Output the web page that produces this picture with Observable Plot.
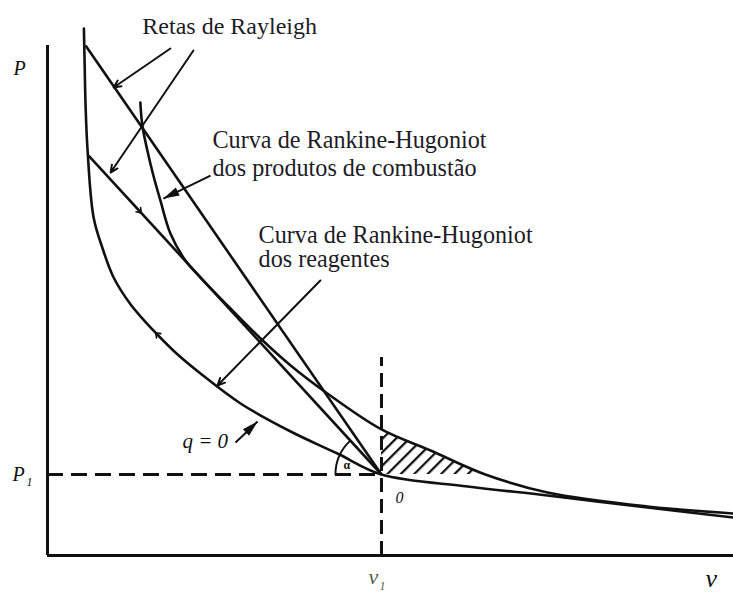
<!DOCTYPE html>
<html>
<head>
<meta charset="utf-8">
<script src="https://cdn.jsdelivr.net/npm/d3@7"></script>
<script src="https://cdn.jsdelivr.net/npm/@observablehq/plot@0.6"></script>
<style>
  body { margin: 0; background: #fff; }
  #chart svg text { font-family: "Liberation Serif", "Times New Roman", serif !important; }
</style>
</head>
<body>
<div id="chart"></div>
<script>
// Specific volume v (in units of v1) and pressure P (in units of P1).
const v1 = 1;
const p1 = 1;

// Rankine-Hugoniot curve of the reactants (q = 0), passing through O = (v1, P1)
const reactantsV = [0.109, 0.111, 0.114, 0.120, 0.138, 0.165, 0.198, 0.249, 0.317, 0.383, 0.458, 0.578, 0.728, 0.868, 1.000, 1.258, 1.497, 1.796, 2.054];
const reactantsP = [6.506, 6.111, 5.556, 5.000, 4.173, 3.790, 3.432, 3.099, 2.778, 2.506, 2.247, 1.877, 1.531, 1.259, 1.000, 0.852, 0.741, 0.593, 0.469];

// Rankine-Hugoniot curve of the combustion products
const productsV = [0.278, 0.284, 0.299, 0.317, 0.338, 0.368, 0.413, 0.458, 0.542, 0.638, 0.728, 0.838, 1.000, 1.147, 1.311, 1.497, 1.796, 2.054];
const productsP = [5.593, 5.309, 5.000, 4.691, 4.383, 3.975, 3.642, 3.432, 3.074, 2.679, 2.346, 2.000, 1.556, 1.296, 1.000, 0.778, 0.605, 0.519];

// Rayleigh lines: each runs from its upper end on the reactants curve down to O
const rayleighStartV = [0.114, 0.123];
const rayleighStartP = [6.296, 4.938];

// Texts
const rayleighLabel = "Retas de Rayleigh";
const productsLabel = ["Curva de Rankine-Hugoniot", "dos produtos de combustão"];
const reactantsLabel = ["Curva de Rankine-Hugoniot", "dos reagentes"];
const heatLabel = "q = 0";
const originLabel = "0";

// Frame
const W = 733, H = 592, mL = 47, mB = 37;
const xMax = 2.054, yMax = 6.852;
const kx = (W - mL) / xMax;   // px per unit of v
const ky = (H - mB) / yMax;   // px per unit of P
const axisTopP = 6.296;
const dashTopP = 2.444;

const reactants = reactantsV.map((v, i) => ({v, P: reactantsP[i]}));
const products = productsV.map((v, i) => ({v, P: productsP[i]}));
const rayleigh = rayleighStartV.map((v, i) => ({v, P: rayleighStartP[i]}));
// forbidden region: v > v1 and P > P1, below the products curve
const hatch = products.filter(d => d.v >= v1 && d.P >= p1);

// Angle mark between P = P1 and the lower Rayleigh line
const arcR = 46;
const rdx = (rayleigh[1].v - v1) * kx, rdy = (rayleigh[1].P - p1) * ky;
const rlen = Math.hypot(rdx, rdy);
const arcA = {v: v1 - arcR / kx, P: p1};
const arcB = {v: v1 + arcR * rdx / rlen / kx, P: p1 + arcR * rdy / rlen / ky};
const arcAngle = Math.atan2(rdy, -rdx) * 180 / Math.PI;

// Leader arrows for the annotations
const openArrows = [
  {x1: 0.368, y1: 6.259, x2: 0.198, y2: 5.778},
  {x1: 0.437, y1: 6.235, x2: 0.189, y2: 4.728},
  {x1: 0.817, y1: 3.395, x2: 0.509, y2: 2.099}
];
const solidArrows = [
  {x1: 0.488, y1: 4.691, x2: 0.347, y2: 4.407},
  {x1: 0.563, y1: 1.395, x2: 0.629, y2: 1.654}
];
const angleOf = d => Math.atan2((d.x2 - d.x1) * kx, (d.y2 - d.y1) * ky) * 180 / Math.PI;

// Narrow filled arrowhead with its tip at the origin, pointing up
const headSymbol = {
  draw(ctx) {
    ctx.moveTo(0, 0);
    ctx.lineTo(-4.5, 16);
    ctx.lineTo(4.5, 16);
    ctx.closePath();
  }
};

// Small flow marks: one on the lower Rayleigh line, one on the reactants curve
const lerp = (a, b, t) => ({v: a.v + (b.v - a.v) * t, P: a.P + (b.P - a.P) * t});
const O = {v: v1, P: p1};
const fr1 = lerp(rayleigh[1], O, 0.18), fr0 = lerp(rayleigh[1], O, 0.10);
const fc1 = lerp(reactants[8], reactants[9], 0.1), fc0 = lerp(reactants[8], reactants[9], 0.9);
const flowMarks = [
  {x1: fr0.v, y1: fr0.P, x2: fr1.v, y2: fr1.P},
  {x1: fc0.v, y1: fc0.P, x2: fc1.v, y2: fc1.P}
];

const ink = "#111";
const textInk = "#1d1c26";

const label = (text, x, y, size, extra = {}) =>
  Plot.text([text], {x, y, fontSize: size, textAnchor: "start", lineAnchor: "bottom", fill: textInk, ...extra});

const chart = Plot.plot({
  width: W,
  height: H,
  marginLeft: mL,
  marginRight: 0,
  marginTop: 0,
  marginBottom: mB,
  x: {domain: [0, xMax], axis: null},
  y: {domain: [0, yMax], axis: null},
  style: {background: "#fff", overflow: "visible"},
  marks: [
    Plot.areaY(hatch, {x: "v", y1: p1, y2: "P", curve: "catmull-rom", fill: "url(#hatch)"}),
    // axes
    Plot.ruleX([0], {y1: 0, y2: axisTopP, stroke: ink, strokeWidth: 3}),
    Plot.ruleY([0], {x1: 0, x2: xMax, stroke: ink, strokeWidth: 3}),
    // initial state guides
    Plot.ruleY([p1], {x1: 0, x2: v1, stroke: ink, strokeWidth: 3, strokeDasharray: "16,8"}),
    Plot.ruleX([v1], {y1: 0, y2: dashTopP, stroke: ink, strokeWidth: 3, strokeDasharray: "14,7"}),
    // curves
    Plot.line(reactants, {x: "v", y: "P", curve: "catmull-rom", stroke: ink, strokeWidth: 2.6}),
    Plot.line(products, {x: "v", y: "P", curve: "catmull-rom", stroke: ink, strokeWidth: 2.6}),
    Plot.link(rayleigh, {x1: "v", y1: "P", x2: v1, y2: p1, stroke: ink, strokeWidth: 2.6}),
    // angle arc
    Plot.arrow([0], {x1: arcA.v, y1: arcA.P, x2: arcB.v, y2: arcB.P, bend: arcAngle / 2, headLength: 0, stroke: ink, strokeWidth: 2}),
    label("α", 0.886, 1.062, 12, {fontWeight: "bold", fill: ink}),
    // flow marks
    Plot.arrow(flowMarks, {x1: "x1", y1: "y1", x2: "x2", y2: "y2", headLength: 5, headAngle: 70, stroke: ink, strokeWidth: 1.6}),
    // leader arrows
    Plot.arrow(openArrows, {x1: "x1", y1: "y1", x2: "x2", y2: "y2", headLength: 6, headAngle: 50, stroke: ink, strokeWidth: 2}),
    Plot.link(solidArrows, {x1: "x1", y1: "y1", x2: "x2", y2: "y2", stroke: ink, strokeWidth: 2}),
    Plot.dot(solidArrows, {x: "x2", y: "y2", symbol: headSymbol, rotate: angleOf, fill: ink, stroke: "none", r: 1}),
    // labels
    label(rayleighLabel, 0.284, 6.444, 24),
    label(productsLabel[0], 0.494, 5.025, 24.2),
    label(productsLabel[1], 0.494, 4.691, 24.2),
    label(reactantsLabel[0], 0.632, 3.864, 24.2),
    label(reactantsLabel[1], 0.632, 3.556, 24.2),
    label(heatLabel, 0.404, 1.333, 21, {fontStyle: "italic", fill: ink}),
    label(originLabel, 1.042, 0.642, 16, {fontStyle: "italic", fill: ink}),
    label("P", -0.102, 5.938, 20, {fontStyle: "italic", fill: ink}),
    label("P", -0.105, 0.914, 20, {fontStyle: "italic", fill: ink}),
    label("1", -0.063, 0.864, 12, {fontStyle: "italic", fill: ink}),
    label("v", 0.961, -0.358, 22, {fontStyle: "italic", fill: "#4f5f45"}),
    label("1", 0.994, -0.420, 12, {fontStyle: "italic", fill: "#4f5f45"}),
    label("v", 1.970, -0.395, 26, {fontStyle: "italic", fill: ink})
  ]
});

// hatching pattern used by the forbidden region
const defs = d3.select(chart).insert("defs", ":first-child");
const pat = defs.append("pattern")
  .attr("id", "hatch")
  .attr("patternUnits", "userSpaceOnUse")
  .attr("width", 9.5)
  .attr("height", 9.5)
  .attr("patternTransform", "rotate(45)");
pat.append("line")
  .attr("x1", 0).attr("y1", 0).attr("x2", 0).attr("y2", 9.5)
  .attr("stroke", ink).attr("stroke-width", 4.5);

document.getElementById("chart").append(chart);
</script>
</body>
</html>
